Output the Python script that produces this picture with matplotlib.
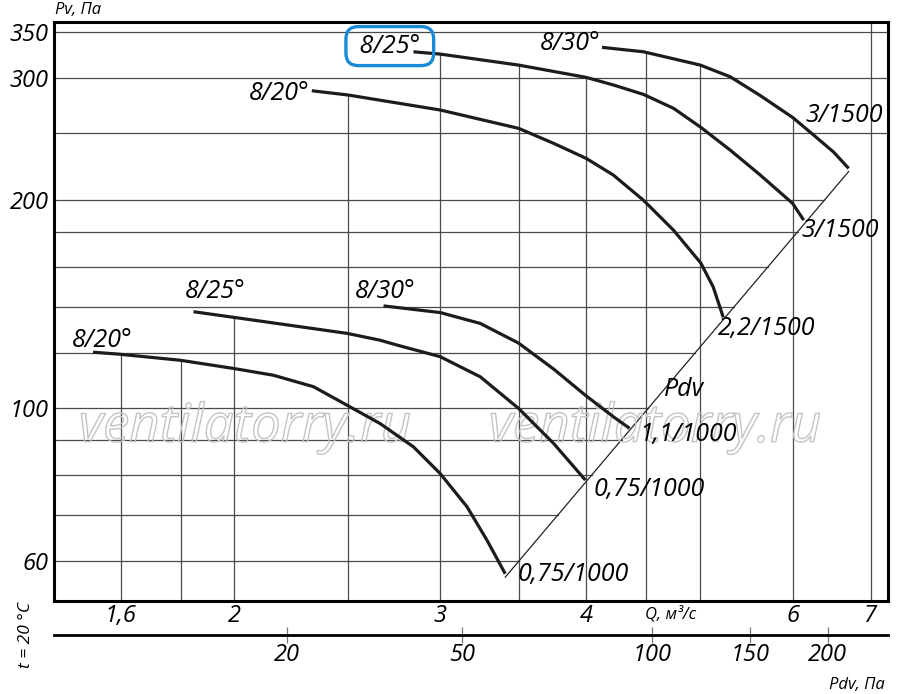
import numpy as np
import matplotlib
matplotlib.use('Agg')
import matplotlib.pyplot as plt
import matplotlib.patheffects as pe
from matplotlib.ticker import NullLocator
from matplotlib.transforms import blended_transform_factory

plt.rcParams['font.family'] = ['Open Sans', 'DejaVu Sans']
plt.rcParams['font.style'] = 'italic'

# Кривые вентилятора: Q, м³/с и Pv, Па (нижняя группа 1000 об/мин, верхняя 1500)
q_l20 = [1.515, 1.595, 1.799, 2.0, 2.16, 2.338, 2.497, 2.665, 2.846, 3.0, 3.162, 3.289, 3.409]
p_l20 = [120.5, 119.7, 117.3, 114.1, 111.6, 107.4, 101.0, 95.0, 87.9, 80.4, 72.0, 64.4, 57.6]

q_l25 = [1.846, 2.0, 2.497, 2.665, 2.755, 3.0, 3.246, 3.5, 3.75, 3.991]
p_l25 = [137.9, 135.3, 128.3, 125.4, 123.4, 118.7, 111.0, 99.9, 88.9, 78.7]

q_l30 = [2.683, 3.0, 3.246, 3.5, 3.75, 3.991, 4.22, 4.354]
p_l30 = [140.6, 137.5, 132.6, 124.2, 113.9, 104.4, 97.1, 93.5]

q_u20 = [2.33, 2.504, 3.0, 3.5, 3.75, 3.998, 4.217, 4.473, 4.746, 5.01, 5.133, 5.235]
p_u20 = [287.9, 283.8, 270.0, 254.0, 241.6, 229.8, 217.4, 200.0, 181.0, 162.1, 149.7, 135.4]

q_u25 = [2.846, 3.0, 3.5, 3.998, 4.22, 4.475, 4.748, 5.01, 5.308, 5.631, 6.001, 6.133]
p_u25 = [327.8, 325.3, 313.6, 301.0, 293.4, 284.4, 271.5, 254.8, 236.2, 217.4, 197.8, 187.1]

q_u30 = [4.124, 4.475, 5.004, 5.308, 5.631, 6.001, 6.254, 6.505, 6.7]
p_u30 = [332.7, 327.8, 313.6, 301.6, 283.3, 263.4, 248.4, 234.7, 222.3]

angle_labels = ['8/20°', '8/25°', '8/30°', '8/20°', '8/25°', '8/30°']
motor_labels = ['0,75/1000', '0,75/1000', '1,1/1000', '2,2/1500', '3/1500', '3/1500']

# Оси
q_ticks = [1.6, 2, 3, 4, 6, 7]
q_tick_labels = ['1,6', '2', '3', '4', '6', '7']
p_ticks = [60, 100, 200, 300, 350]
grid_q = [1.6, 1.8, 2, 2.5, 3, 3.5, 4, 4.5, 5, 6, 7]
grid_p = [60, 70, 80, 90, 100, 120, 140, 160, 180, 200, 250, 300, 350]

# Шкала динамического давления
pdv_ticks = [20, 50, 100, 150, 200]
pdv_ticks_q = [2.22, 3.13, 4.55, 5.52, 6.43]
pdv_k = 4.9  # Pdv = k * Q^2

fig = plt.figure(figsize=(9, 6.94), dpi=100)
ax = fig.add_axes([0.06, 0.134, 0.9267, 0.8343])
ax.set_xscale('log')
ax.set_yscale('log')
ax.set_xlim(1.403, 7.24)
ax.set_ylim(52.6, 362)

curves = [(q_l20, p_l20), (q_l25, p_l25), (q_l30, p_l30),
          (q_u20, p_u20), (q_u25, p_u25), (q_u30, p_u30)]

grid_col = '#4a4a4a'
x0, x1 = ax.get_xlim()
y0, y1 = ax.get_ylim()
p_diag_top = pdv_k * max(q[-1] for q, p in curves) ** 2

# горизонтальная сетка обрывается на линии Pdv
for p in grid_p:
    xe = x1 if p > p_diag_top else np.sqrt(p / pdv_k)
    ax.plot([x0, xe], [p, p], color=grid_col, lw=0.9, zorder=1)

# вертикальная сетка идет до верхней кривой
for q in grid_q:
    top = None
    for cq, cp in curves:
        if cq[0] <= q <= cq[-1]:
            v = 10 ** np.interp(np.log10(q), np.log10(cq), np.log10(cp))
            top = v if top is None else max(top, v)
    if top is None:
        top = y1
    ax.plot([q, q], [y0, top], color=grid_col, lw=0.9, zorder=1)

# линия Pdv
q_ends = [q[-1] for q, p in curves]
qd = np.array([min(q_ends), max(q_ends)])
ax.plot(qd, pdv_k * qd ** 2, color='#222222', lw=0.9, zorder=2)
ax.text(np.sqrt(106.5 / pdv_k), 106.5, 'Pdv', fontsize=18, ha='left', va='center')

# водяные знаки
for xw in [0.229, 0.7206]:
    ax.text(xw, 0.299, 'ventilatorry.ru', transform=ax.transAxes, fontsize=38,
            color=(1, 1, 1, 0), ha='center', va='center', zorder=3,
            path_effects=[pe.Stroke(linewidth=1.0, foreground='#c4c4c4')])

start_off = [((6.5, 8.6), 'center'), ((16, 14.4), 'center'), ((1.4, 10), 'center'),
             ((-1.4, -2.2), 'right'), ((9.5, 4.1), 'right'), ((-0.7, 2.9), 'right')]
end_off = [((8.6, -0.7), 'left'), ((5.8, -6.5), 'left'), ((7.2, -4.3), 'left'),
           ((-3.6, -7.9), 'left'), ((-1.4, -7.2), 'left'), ((-2.9, 38), 'center')]

for i, (q, p) in enumerate(curves):
    ax.plot(q, p, color='#1c1c1c', lw=2.3, solid_capstyle='butt',
            solid_joinstyle='round', zorder=4)
    off, ha = start_off[i]
    kw = {}
    label = angle_labels[i]
    if i == 4:
        label = ' ' + label + ' '
        kw['bbox'] = dict(boxstyle='round,pad=0.28,rounding_size=0.5', fc='none',
                          ec='#1a8ad4', lw=2.4)
    ax.annotate(label, xy=(q[0], p[0]), xytext=off, textcoords='offset points',
                ha=ha, va='center', fontsize=18, zorder=5, **kw)
    off, ha = end_off[i]
    ax.annotate(motor_labels[i], xy=(q[-1], p[-1]), xytext=off, textcoords='offset points',
                ha=ha, va='center', fontsize=18, zorder=5)

ax.xaxis.set_minor_locator(NullLocator())
ax.yaxis.set_minor_locator(NullLocator())
ax.set_xticks(q_ticks, labels=q_tick_labels)
ax.set_yticks(p_ticks, labels=[str(v) for v in p_ticks])
ax.tick_params(length=0, labelsize=17)
ax.tick_params(axis='x', pad=2)
ax.tick_params(axis='y', pad=4)
for s in ax.spines.values():
    s.set_linewidth(2.2)
    s.set_zorder(6)

sec = ax.secondary_xaxis(-0.0587)
sec.set_ticks(pdv_ticks_q, labels=[str(v) for v in pdv_ticks])
sec.xaxis.set_minor_locator(NullLocator())
sec.spines['bottom'].set_linewidth(2.0)
sec.tick_params(direction='inout', length=12, width=0.9, color='#777777',
                labelsize=17, pad=0)

tr = blended_transform_factory(ax.transData, ax.transAxes)
ax.text(4.72, -0.0225, 'Q, м³/с', transform=tr, fontsize=12, ha='center', va='center')

fig.text(0.061, 0.9856, 'Pv, Па', fontsize=12, ha='left', va='center')
fig.text(0.983, 0.013, 'Pdv, Па', fontsize=12, ha='right', va='center')
fig.text(0.029, 0.085, 't = 20 °C', fontsize=12.5, rotation=90, ha='center', va='center')

fig.savefig('out.png', dpi=100)
